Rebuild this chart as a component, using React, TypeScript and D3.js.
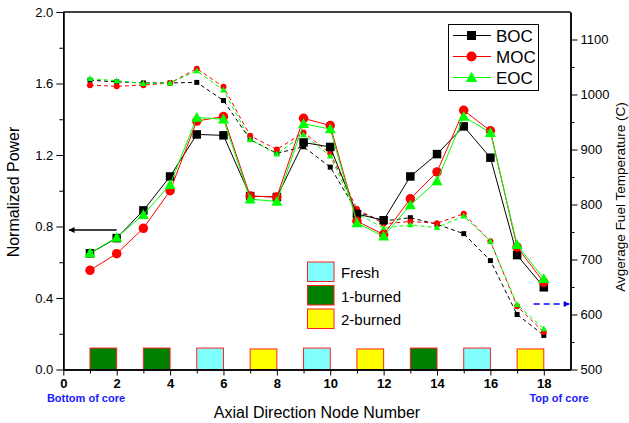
import React, { useRef, useEffect } from 'react';
import * as d3 from 'd3';

const nodes = [1, 2, 3, 4, 5, 6, 7, 8, 9, 10, 11, 12, 13, 14, 15, 16, 17, 18];

// normalized power (left axis)
const bocPower = [0.65, 0.735, 0.89, 1.08, 1.315, 1.31, 0.97, 0.965, 1.27, 1.245, 0.87, 0.835, 1.08, 1.205, 1.36, 1.185, 0.64, 0.46];
const mocPower = [0.555, 0.648, 0.79, 1.0, 1.39, 1.415, 0.97, 0.965, 1.405, 1.365, 0.83, 0.755, 0.955, 1.105, 1.45, 1.335, 0.685, 0.488];
const eocPower = [0.652, 0.738, 0.866, 1.034, 1.41, 1.40, 0.953, 0.94, 1.375, 1.345, 0.82, 0.745, 0.92, 1.055, 1.415, 1.325, 0.698, 0.507];

// average fuel temperature (right axis)
const bocTemp = [1026, 1023, 1021, 1021, 1022, 989, 918, 893, 905, 868, 787, 770, 776, 764, 747, 698, 600, 562];
const mocTemp = [1017, 1015, 1017, 1021, 1047, 1014, 925, 900, 931, 893, 792, 765, 769, 766, 783, 733, 615, 568];
const eocTemp = [1029, 1025, 1020, 1021, 1043, 1008, 918, 892, 927, 888, 784, 757, 763, 758, 779, 733, 618, 574];

const seriesNames = ['BOC', 'MOC', 'EOC'];

// fuel batches along the core, each covering two nodes
const fuelStarts = [1, 3, 5, 7, 9, 11, 13, 15, 17];
const fuelTypes = ['1-burned', '1-burned', 'Fresh', '2-burned', 'Fresh', '2-burned', '1-burned', 'Fresh', '2-burned'];
const fuelLegend = ['Fresh', '1-burned', '2-burned'];

const leftTicks = [0, 0.4, 0.8, 1.2, 1.6, 2.0];
const rightTicks = [500, 600, 700, 800, 900, 1000, 1100];
const xTicks = [0, 2, 4, 6, 8, 10, 12, 14, 16, 18];

const FONT = 'Liberation Sans, Arial, sans-serif';

export default function App() {
  const ref = useRef<SVGSVGElement>(null);

  useEffect(() => {
    const svg = d3.select(ref.current);
    svg.selectAll('*').remove();

    const W = 629, H = 423;
    const left = 63.3, right = 570.5, top = 12, bottom = 369.5;

    const x = d3.scaleLinear().domain([0, 19]).range([left, right]);
    const y = d3.scaleLinear().domain([0, 2]).range([bottom, top]);
    const yT = d3.scaleLinear().domain([500, 1150]).range([bottom, top]);

    svg.append('rect').attr('width', W).attr('height', H).attr('fill', '#fff');

    const defs = svg.append('defs');
    defs.append('marker').attr('id', 'arrBlack').attr('viewBox', '0 0 10 10')
      .attr('refX', 9).attr('refY', 5).attr('markerWidth', 8).attr('markerHeight', 6)
      .attr('orient', 'auto').attr('markerUnits', 'userSpaceOnUse')
      .append('path').attr('d', 'M0,0 L10,5 L0,10 Z').attr('fill', '#000');
    defs.append('marker').attr('id', 'arrBlue').attr('viewBox', '0 0 10 10')
      .attr('refX', 9).attr('refY', 5).attr('markerWidth', 8).attr('markerHeight', 6)
      .attr('orient', 'auto').attr('markerUnits', 'userSpaceOnUse')
      .append('path').attr('d', 'M0,0 L10,5 L0,10 Z').attr('fill', '#0000ff');

    const fuelColor: Record<string, string> = { 'Fresh': '#80ffff', '1-burned': '#008000', '2-burned': '#ffff00' };

    // fuel boxes at bottom
    svg.append('g').selectAll('rect')
      .data(fuelStarts)
      .enter()
      .append('rect')
      .attr('x', d => x(d))
      .attr('y', (d, i) => y(fuelTypes[i] === '2-burned' ? 0.115 : 0.12))
      .attr('width', d => x(d + 1) - x(d))
      .attr('height', (d, i) => y(0) - y(fuelTypes[i] === '2-burned' ? 0.115 : 0.12))
      .attr('fill', (d, i) => fuelColor[fuelTypes[i]])
      .attr('stroke', '#ff2020')
      .attr('stroke-width', 1);

    // axes
    const gl = svg.append('g').attr('transform', `translate(${left},0)`);
    gl.call(d3.axisLeft(y).tickValues(leftTicks).tickFormat(d3.format('.1f')).tickSize(7).tickSizeOuter(0));
    gl.append('g').call(d3.axisLeft(y).tickValues(d3.range(0.2, 2, 0.4)).tickFormat(() => '').tickSize(4).tickSizeOuter(0));
    gl.selectAll('text').attr('font-family', FONT).attr('font-size', 13).attr('fill', '#000');

    const gr = svg.append('g').attr('transform', `translate(${right},0)`);
    gr.call(d3.axisRight(yT).tickValues(rightTicks).tickFormat(d3.format('d')).tickSize(7).tickSizeOuter(0));
    gr.append('g').call(d3.axisRight(yT).tickValues(d3.range(550, 1150, 100)).tickFormat(() => '').tickSize(4).tickSizeOuter(0));
    gr.selectAll('text').attr('font-family', FONT).attr('font-size', 13).attr('fill', '#000');

    const gb = svg.append('g').attr('transform', `translate(0,${bottom})`);
    gb.call(d3.axisBottom(x).tickValues(xTicks).tickSize(6).tickSizeOuter(0));
    gb.append('g').call(d3.axisBottom(x).tickValues(d3.range(1, 19, 2)).tickFormat(() => '').tickSize(4).tickSizeOuter(0));
    gb.selectAll('text').attr('font-family', FONT).attr('font-size', 13).attr('font-weight', 'bold').attr('fill', '#000');

    svg.append('line').attr('x1', left).attr('x2', right).attr('y1', top).attr('y2', top)
      .attr('stroke', '#000').attr('stroke-width', 1.5);
    svg.selectAll('.domain').attr('stroke-width', 1.5);

    const colors = ['#000000', '#ff0000', '#00ff00'];
    const powers = [bocPower, mocPower, eocPower];
    const temps = [bocTemp, mocTemp, eocTemp];

    const drawMarker = (g: any, kind: number, cx: number, cy: number, s: number, color: string) => {
      if (kind === 0) {
        g.append('rect').attr('x', cx - s / 2).attr('y', cy - s / 2).attr('width', s).attr('height', s).attr('fill', color);
      } else if (kind === 1) {
        g.append('circle').attr('cx', cx).attr('cy', cy).attr('r', s / 2 + 0.5).attr('fill', color);
      } else {
        g.append('path')
          .attr('d', `M${cx},${cy - s * 0.65} L${cx + s * 0.65},${cy + s * 0.5} L${cx - s * 0.65},${cy + s * 0.5} Z`)
          .attr('fill', color);
      }
    };

    // dashed temperature lines
    temps.forEach((arr, k) => {
      const line = d3.line<number>().x((d, i) => x(nodes[i])).y(d => yT(d));
      svg.append('path').datum(arr).attr('d', line).attr('fill', 'none')
        .attr('stroke', colors[k]).attr('stroke-width', 1).attr('stroke-dasharray', '4,3');
      const g = svg.append('g');
      arr.forEach((v, i) => drawMarker(g, k, x(nodes[i]), yT(v), 5, colors[k]));
    });

    // solid power lines
    powers.forEach((arr, k) => {
      const line = d3.line<number>().x((d, i) => x(nodes[i])).y(d => y(d));
      svg.append('path').datum(arr).attr('d', line).attr('fill', 'none')
        .attr('stroke', colors[k]).attr('stroke-width', 1);
      const g = svg.append('g');
      arr.forEach((v, i) => drawMarker(g, k, x(nodes[i]), y(v), 8.5, colors[k]));
    });

    // arrows pointing to axes
    svg.append('line').attr('x1', x(2)).attr('x2', x(0.22)).attr('y1', y(0.78)).attr('y2', y(0.78))
      .attr('stroke', '#000').attr('stroke-width', 1.5).attr('marker-end', 'url(#arrBlack)');
    svg.append('line').attr('x1', x(17.62)).attr('x2', x(18.95)).attr('y1', yT(619)).attr('y2', yT(619))
      .attr('stroke', '#0000ff').attr('stroke-width', 1.5).attr('stroke-dasharray', '6,4').attr('marker-end', 'url(#arrBlue)');

    // series legend
    const lg = svg.append('g');
    lg.append('rect').attr('x', 448.5).attr('y', 24.5).attr('width', 90).attr('height', 66)
      .attr('fill', '#fff').attr('stroke', '#000').attr('stroke-width', 1);
    seriesNames.forEach((name, k) => {
      const ly = 35.5 + k * 21;
      lg.append('line').attr('x1', 453).attr('x2', 491).attr('y1', ly).attr('y2', ly)
        .attr('stroke', colors[k]).attr('stroke-width', 1);
      drawMarker(lg, k, 471.5, ly, 9, colors[k]);
      lg.append('text').attr('x', 496).attr('y', ly + 6).text(name)
        .attr('font-family', FONT).attr('font-size', 17).attr('fill', '#000');
    });

    // fuel legend
    const fg = svg.append('g');
    fuelLegend.forEach((name, k) => {
      const by = 262 + k * 23.5;
      fg.append('rect').attr('x', 307.5).attr('y', by).attr('width', 26.5).attr('height', 19.5)
        .attr('fill', fuelColor[name]).attr('stroke', '#ff2020').attr('stroke-width', 1);
      fg.append('text').attr('x', 341).attr('y', by + 16).text(name)
        .attr('font-family', FONT).attr('font-size', 15).attr('fill', '#000');
    });

    // axis titles
    svg.append('text').attr('transform', `translate(19,192) rotate(-90)`).attr('text-anchor', 'middle')
      .text('Normalized Power').attr('font-family', FONT).attr('font-size', 16).attr('fill', '#000');
    svg.append('text').attr('transform', `translate(625,197) rotate(-90)`).attr('text-anchor', 'middle')
      .text('Avgerage Fuel Temperature (C)').attr('font-family', FONT).attr('font-size', 13.5).attr('fill', '#000');
    svg.append('text').attr('x', 317).attr('y', 418).attr('text-anchor', 'middle')
      .text('Axial Direction Node Number').attr('font-family', FONT).attr('font-size', 16).attr('fill', '#000');
    svg.append('text').attr('x', 86).attr('y', 402).attr('text-anchor', 'middle')
      .text('Bottom of core').attr('font-family', FONT).attr('font-size', 11).attr('font-weight', 'bold').attr('fill', '#1a1aff');
    svg.append('text').attr('x', 559).attr('y', 402).attr('text-anchor', 'middle')
      .text('Top of core').attr('font-family', FONT).attr('font-size', 11).attr('font-weight', 'bold').attr('fill', '#1a1aff');
  }, []);

  return (
    <svg ref={ref} width={629} height={423} style={{ position: 'absolute', left: 0, top: 0 }} />
  );
}
